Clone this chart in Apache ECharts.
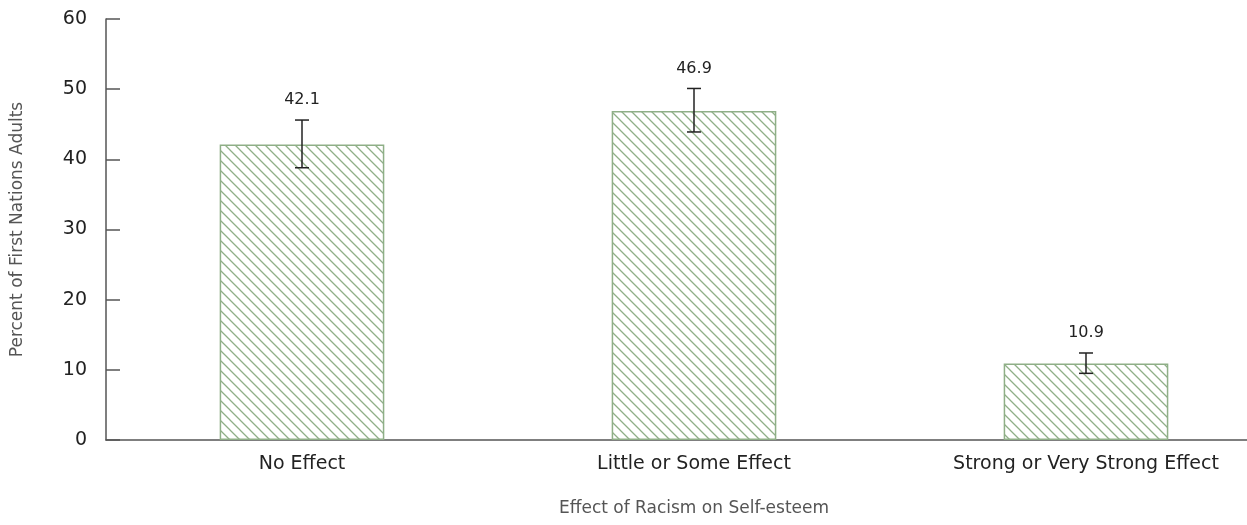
<!DOCTYPE html>
<html>
<head>
<meta charset="utf-8">
<script src="https://cdn.jsdelivr.net/npm/echarts@6/dist/echarts.min.js"></script>
<style>
  html, body { margin: 0; padding: 0; background: #fff; overflow: hidden; }
  #chart { width: 1247px; height: 525px; }
</style>
</head>
<body>
<div id="chart"></div>
<script>
const categories = ['No Effect', 'Little or Some Effect', 'Strong or Very Strong Effect']
const values = [42.1, 46.9, 10.9]
const errLow = [38.8, 43.9, 9.5]
const errHigh = [45.6, 50.1, 12.4]
const yTicks = [0, 10, 20, 30, 40, 50, 60]

const green = '#8faf87'

// hatch pattern for the bars
function makeHatch() {
  const size = 10
  const c = document.createElement('canvas')
  c.width = size
  c.height = size
  const ctx = c.getContext('2d')
  ctx.strokeStyle = green
  ctx.lineWidth = 1.3
  ctx.beginPath()
  ctx.moveTo(-1, -1)
  ctx.lineTo(size + 1, size + 1)
  ctx.moveTo(-1, size - 1)
  ctx.lineTo(1, size + 1)
  ctx.moveTo(size - 1, -1)
  ctx.lineTo(size + 1, 1)
  ctx.stroke()
  return c
}

const chart = echarts.init(document.getElementById('chart'))

const errData = categories.map((c, i) => [i, errLow[i], errHigh[i], values[i]])

chart.setOption({
  animation: false,
  textStyle: { fontFamily: 'DejaVu Sans' },
  grid: {
    left: 106, width: 1176, top: 19, bottom: 85,
    containLabel: false, outerBoundsMode: 'none',
  },
  xAxis: {
    type: 'category',
    data: categories,
    name: 'Effect of Racism on Self-esteem',
    nameLocation: 'middle',
    nameGap: 60,
    nameTextStyle: { fontSize: 17, color: '#555' },
    axisLine: { lineStyle: { color: '#555', width: 1.5 } },
    axisTick: { inside: true, length: 10, lineStyle: { color: '#555', width: 1.5 } },
    axisLabel: { fontSize: 19, color: '#222', margin: 15 },
  },
  yAxis: {
    type: 'value',
    min: yTicks[0],
    max: yTicks[yTicks.length - 1],
    interval: 10,
    name: 'Percent of First Nations Adults',
    nameLocation: 'middle',
    nameGap: 80,
    nameTextStyle: { fontSize: 17, color: '#555' },
    axisLine: { show: true, lineStyle: { color: '#555', width: 1.5 } },
    axisTick: { show: true, inside: true, length: 14, lineStyle: { color: '#555', width: 1.5 } },
    axisLabel: { fontSize: 19, color: '#222', margin: 19 },
    splitLine: { show: false },
  },
  series: [
    {
      type: 'bar',
      data: values,
      barWidth: '42%',
      itemStyle: {
        color: { image: makeHatch(), repeat: 'repeat' },
        borderColor: green,
        borderWidth: 1.5,
      },
    },
    {
      type: 'custom',
      data: errData,
      z: 10,
      renderItem: (params, api) => {
        const x = api.value(0)
        const lo = api.coord([x, api.value(1)])
        const hi = api.coord([x, api.value(2)])
        const cap = 7
        const style = { stroke: '#222', lineWidth: 1.5 }
        return {
          type: 'group',
          children: [
            { type: 'line', shape: { x1: lo[0], y1: lo[1], x2: hi[0], y2: hi[1] }, style },
            { type: 'line', shape: { x1: lo[0] - cap, y1: lo[1], x2: lo[0] + cap, y2: lo[1] }, style },
            { type: 'line', shape: { x1: hi[0] - cap, y1: hi[1], x2: hi[0] + cap, y2: hi[1] }, style },
            {
              type: 'text',
              style: {
                x: hi[0],
                y: hi[1] - 20,
                text: String(api.value(3)),
                fill: '#222',
                font: '16px "DejaVu Sans"',
                align: 'center',
                verticalAlign: 'middle',
              },
            },
          ],
        }
      },
    },
  ],
})
</script>
</body>
</html>
